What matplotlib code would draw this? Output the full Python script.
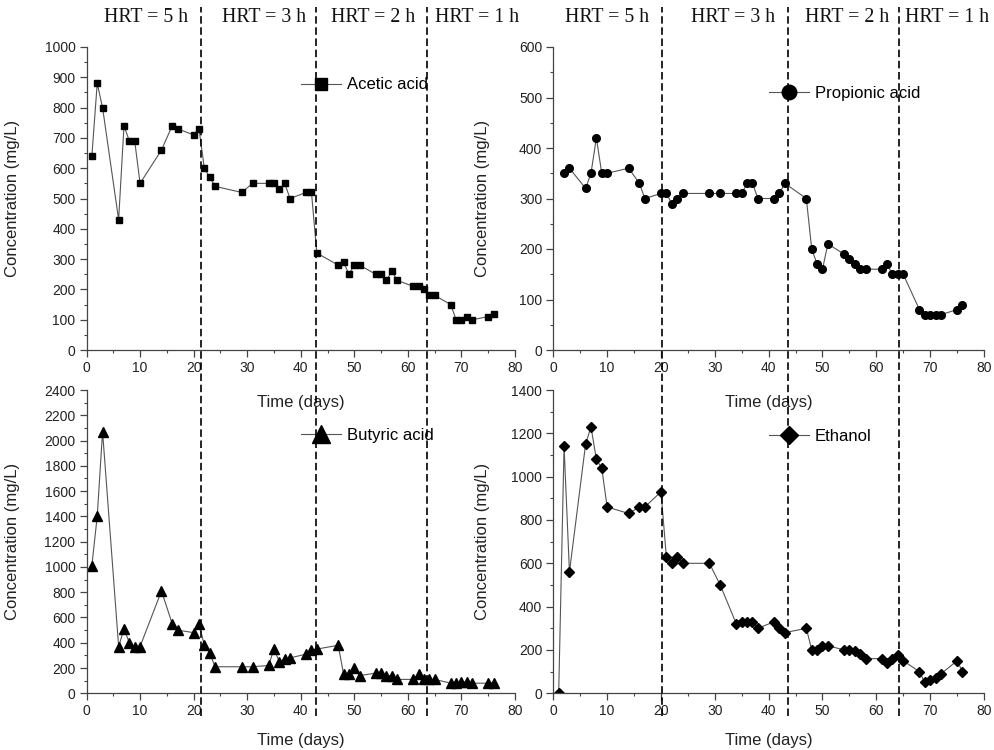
import matplotlib
matplotlib.use("Agg")
import matplotlib.pyplot as plt
from matplotlib.lines import Line2D
from matplotlib.ticker import MultipleLocator
from matplotlib.transforms import blended_transform_factory

plt.rcParams['font.family'] = ['Liberation Sans', 'DejaVu Sans']

# sampling days (acetic, butyric and ethanol share them)
days = [1, 2, 3, 6, 7, 8, 9, 10, 14, 16, 17, 20, 21, 22, 23, 24, 29, 31, 34, 35, 36, 37, 38,
        41, 42, 43, 47, 48, 49, 50, 51, 54, 55, 56, 57, 58, 61, 62, 63, 64, 65, 68, 69, 70,
        71, 72, 75, 76]
acetic = [640, 880, 800, 430, 740, 690, 690, 550, 660, 740, 730, 710, 730, 600, 570, 540,
          520, 550, 550, 550, 530, 550, 500, 520, 520, 320, 280, 290, 250, 280, 280, 250,
          250, 230, 260, 230, 210, 210, 200, 180, 180, 150, 100, 100, 110, 100, 110, 120]
butyric = [1010, 1400, 2070, 370, 510, 400, 370, 370, 810, 550, 500, 480, 550, 380, 320,
           210, 210, 210, 220, 350, 250, 270, 280, 310, 340, 350, 380, 150, 150, 200, 140,
           160, 160, 140, 140, 110, 110, 150, 110, 110, 110, 80, 80, 90, 90, 80, 80, 85]
ethanol = [0, 1140, 560, 1150, 1230, 1080, 1040, 860, 830, 860, 860, 930, 630, 600, 630, 600,
           600, 500, 320, 330, 330, 330, 300, 330, 300, 280, 300, 200, 200, 220, 220, 200,
           200, 195, 180, 160, 160, 140, 160, 175, 150, 100, 50, 60, 70, 90, 150, 100]

prop_days = [2, 3, 6, 7, 8, 9, 10, 14, 16, 17, 20, 21, 22, 23, 24, 29, 31, 34, 35, 36, 37, 38,
             41, 42, 43, 47, 48, 49, 50, 51, 54, 55, 56, 57, 58, 61, 62, 63, 64, 65, 68, 69,
             70, 71, 72, 75, 76]
propionic = [350, 360, 320, 350, 420, 350, 350, 360, 330, 300, 310, 310, 290, 300, 310, 310,
             310, 310, 310, 330, 330, 300, 300, 310, 330, 300, 200, 170, 160, 210, 190, 180,
             170, 160, 160, 160, 170, 150, 150, 150, 80, 70, 70, 70, 70, 80, 90]

# HRT change days (left column / right column)
hrt_left = [21.3, 42.8, 63.5]
hrt_right = [20.2, 43.6, 64.2]
hrt_labels = ["HRT = 5 h", "HRT = 3 h", "HRT = 2 h", "HRT = 1 h"]
# where the HRT captions sit, in days
hrt_text_left = [11.1, 33.1, 53.5, 73.0]
hrt_text_right = [10.0, 33.3, 54.6, 73.1]

fig = plt.figure(figsize=(9.94, 7.5), dpi=100)

W, H = 994, 750
def box(x0, x1, ytop, ybot):
    return [x0 / W, 1 - ybot / H, (x1 - x0) / W, (ybot - ytop) / H]

ax1 = fig.add_axes(box(86.5, 515, 47, 350))
ax2 = fig.add_axes(box(553.3, 984, 47, 350))
ax3 = fig.add_axes(box(86.5, 515, 390, 693.3))
ax4 = fig.add_axes(box(553.3, 984, 390, 693.3))

panels = [
    (ax1, days, acetic, 's', 4.8, "Acetic acid", 1000, 100, 50, 0.875),
    (ax2, prop_days, propionic, 'o', 5.5, "Propionic acid", 600, 100, 50, 0.848),
    (ax3, days, butyric, '^', 7.0, "Butyric acid", 2400, 200, 100, 0.849),
    (ax4, days, ethanol, 'D', 4.9, "Ethanol", 1400, 200, 100, 0.846),
]

for ax, xs, ys, mk, ms, name, ymax, maj, mnr, ly in panels:
    ax.plot(xs, ys, color='#555555', lw=0.8, marker=mk, ms=ms,
            mfc='black', mec='black', label=name)
    ax.set_xlim(0, 80)
    ax.set_ylim(0, ymax)
    ax.xaxis.set_major_locator(MultipleLocator(10))
    ax.xaxis.set_minor_locator(MultipleLocator(5))
    ax.yaxis.set_major_locator(MultipleLocator(maj))
    ax.yaxis.set_minor_locator(MultipleLocator(mnr))
    for s in ['top', 'right']:
        ax.spines[s].set_visible(False)
    for s in ['left', 'bottom']:
        ax.spines[s].set_color('#444444')
        ax.spines[s].set_linewidth(0.9)
    ax.tick_params(which='major', direction='out', length=5, width=0.9,
                   color='#444444', labelsize=10, labelcolor='#222222', pad=3)
    ax.tick_params(which='minor', direction='out', length=2.5, width=0.8, color='#444444')
    ax.set_xlabel("Time (days)", fontsize=12, color='#222222')
    ax.set_ylabel("Concentration (mg/L)", fontsize=12, color='#222222')
    ax.patch.set_alpha(0)
    ax.legend(loc='center left', bbox_to_anchor=(0.501, ly), frameon=False,
              fontsize=12, markerscale=1.9, handlelength=2.4, handletextpad=0.35,
              borderpad=0, borderaxespad=0)

ax1.xaxis.set_label_coords(0.5, -0.148)
ax2.xaxis.set_label_coords(0.5, -0.148)
ax3.xaxis.set_label_coords(0.5, -0.13)
ax4.xaxis.set_label_coords(0.5, -0.13)
ax1.yaxis.set_label_coords(-0.155, 0.5)
ax3.yaxis.set_label_coords(-0.155, 0.5)
ax2.yaxis.set_label_coords(-0.147, 0.5)
ax4.yaxis.set_label_coords(-0.147, 0.5)

# dashed HRT boundaries running through both rows
for ax, xs in [(ax1, hrt_left), (ax2, hrt_right)]:
    tr = blended_transform_factory(ax.transData, fig.transFigure)
    for x in xs:
        fig.add_artist(Line2D([x, x], [0.045, 0.991], transform=tr, color='black',
                              lw=1.2, dashes=(4.5, 2.2)))

# HRT labels along the top
for ax, xs in [(ax1, hrt_text_left), (ax2, hrt_text_right)]:
    tr = blended_transform_factory(ax.transData, fig.transFigure)
    for x, lab in zip(xs, hrt_labels):
        fig.text(x, 0.976, lab, transform=tr, ha='center', va='center', fontsize=14.3,
                 family=['Liberation Serif', 'DejaVu Serif'], color='#111111')

fig.savefig("out.png", dpi=100)
